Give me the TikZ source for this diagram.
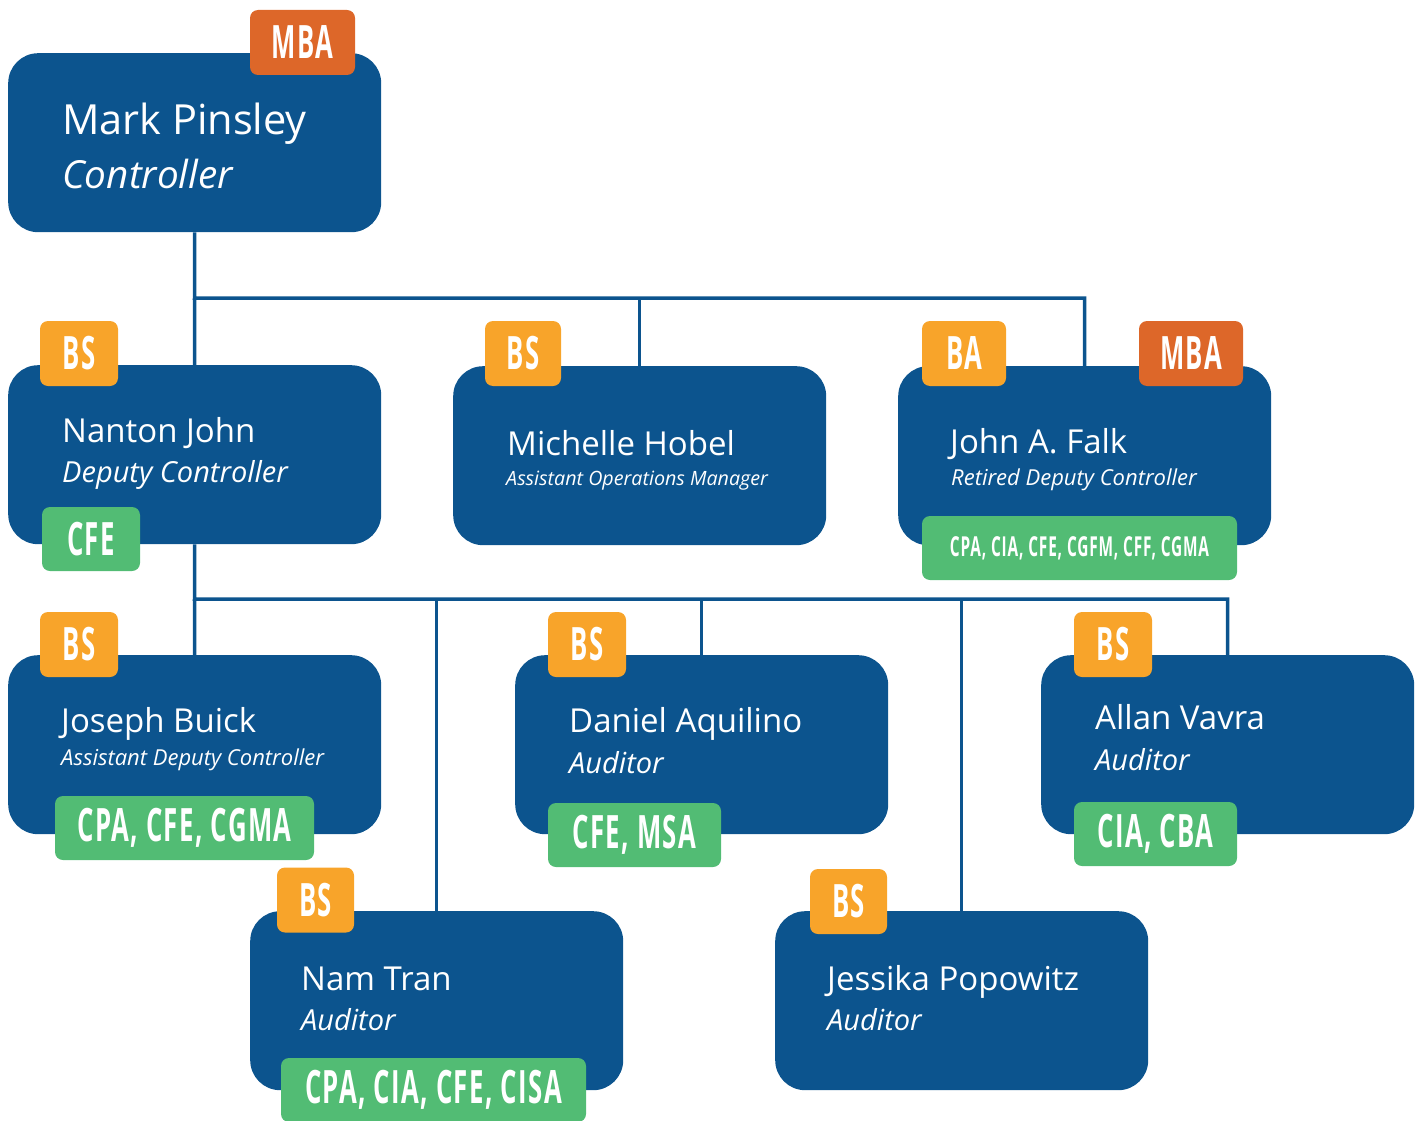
\documentclass[tikz,border=0pt]{standalone}
\usepackage{fontspec}
\setmainfont{Open Sans}
\newfontfamily\badgefont[FakeStretch=0.56, LetterSpace=3]{Open Sans}
\usetikzlibrary{positioning}
\definecolor{boxblue}{HTML}{0C548E}
\definecolor{degyellow}{HTML}{F8A42A}
\definecolor{degorange}{HTML}{DD6729}
\definecolor{certgreen}{HTML}{52BC74}

\tikzset{
  person/.style={fill=boxblue, rounded corners=30pt, minimum width=373pt,
    minimum height=179pt, anchor=north west, inner sep=0pt},
  pname/.style={anchor=base west, inner sep=0pt, text=white,
    font=\fontsize{33}{33}\selectfont},
  ptitle/.style={pname, font=\itshape\fontsize{29}{29}\selectfont},
  psmall/.style={pname, font=\itshape\fontsize{22}{22}\selectfont},
  badge/.style={rounded corners=8pt, minimum height=65pt, inner sep=0pt,
    text=white, font=\badgefont\bfseries\fontsize{46}{46}\selectfont},
  bs/.style={badge, fill=degyellow},
  mba/.style={badge, fill=degorange},
  cert/.style={badge, fill=certgreen, minimum height=64pt},
  link/.style={draw=boxblue, line width=3.5pt}
}

\begin{document}
\begin{tikzpicture}[x=1pt, y=-1pt]
  \useasboundingbox (0,0) rectangle (1421,1121);

  % boxes
  \node[person] (mark)    at (8,53)    {};
  \node[person] (nanton)  at (8,365)   {};
  \node[person] (hobel)   at (453,366) {};
  \node[person] (falk)    at (898,366) {};
  \node[person] (buick)   at (8,655)   {};
  \node[person] (aquil)   at (515,655) {};
  \node[person] (vavra)   at (1041,655) {};
  \node[person] (tran)    at (250,911) {};
  \node[person] (popow)   at (775,911) {};

  % connectors
  \coordinate (bus1) at (194.5,298);
  \coordinate (bus2) at (194.5,599);
  \draw[link] (mark.south) -- (bus1) -| (falk.north);
  \draw[link] (bus1) -- (nanton.north);
  \draw[link] (hobel.north) -- (hobel.north |- bus1);
  \draw[link] (nanton.south) -- (bus2) -| (vavra.north);
  \draw[link] (bus2) -- (buick.north);
  \draw[link] (tran.north) -- (tran.north |- bus2);
  \draw[link] (aquil.north) -- (aquil.north |- bus2);
  \draw[link] (popow.north) -- (popow.north |- bus2);

  % names and titles
  \node[pname, font=\fontsize{41.5}{41.5}\selectfont] (markN) at (62,135) {Mark Pinsley};
  \node[ptitle, font=\itshape\fontsize{38.7}{38.7}\selectfont] (markT) at (62,188) {Controller};
  \node[pname] (nantonN) at (62,442) {Nanton John};
  \node[ptitle] (nantonT) at (62,482) {Deputy Controller};
  \node[pname] (hobelN) at (507,455) {Michelle Hobel};
  \node[psmall, font=\itshape\fontsize{19.7}{19.7}\selectfont] (hobelT) at (506,485) {Assistant Operations Manager};
  \node[pname] (falkN) at (950,453) {John A. Falk};
  \node[psmall] (falkT) at (951,485) {Retired Deputy Controller};
  \node[pname] (buickN) at (61,732) {Joseph Buick};
  \node[psmall] (buickT) at (61,765) {Assistant Deputy Controller};
  \node[pname] (aquilN) at (569,732) {Daniel Aquilino};
  \node[ptitle] (aquilT) at (569,773) {Auditor};
  \node[pname] (vavraN) at (1095,729) {Allan Vavra};
  \node[ptitle] (vavraT) at (1095,770) {Auditor};
  \node[pname] (tranN) at (301,990) {Nam Tran};
  \node[ptitle] (tranT) at (301,1030) {Auditor};
  \node[pname] (popowN) at (827,990) {Jessika Popowitz};
  \node[ptitle] (popowT) at (827,1030) {Auditor};

  % degrees
  \node[mba, minimum width=105pt] (markMBA) at (302.5,42.5) {MBA};
  \node[bs, minimum width=78pt] (nantonBS) at (79,353.5) {BS};
  \node[bs, minimum width=76pt] (hobelBS) at (523,353.5) {BS};
  \node[bs, minimum width=84pt] (falkBA) at (964,353.5) {BA};
  \node[mba, minimum width=104pt] (falkMBA) at (1191,353.5) {MBA};
  \node[bs, minimum width=78pt] (buickBS) at (79,644.5) {BS};
  \node[bs, minimum width=78pt] (aquilBS) at (587,644.5) {BS};
  \node[bs, minimum width=78pt] (vavraBS) at (1113,644.5) {BS};
  \node[bs, minimum width=77pt] (tranBS) at (315.5,900) {BS};
  \node[bs, minimum width=77pt] (popowBS) at (848.5,901.5) {BS};

  % certifications
  \node[cert, minimum width=98pt] (nantonC) at (91,539) {CFE};
  \node[cert, minimum width=315pt, font=\badgefont\bfseries\fontsize{27.5}{27.5}\selectfont] (falkC) at (1079.5,548) {CPA, CIA, CFE, CGFM, CFF, CGMA};
  \node[cert, minimum width=259pt] (buickC) at (184.5,828) {CPA, CFE, CGMA};
  \node[cert, minimum width=173pt] (aquilC) at (634.5,835) {CFE, MSA};
  \node[cert, minimum width=163pt] (vavraC) at (1155.5,834) {CIA, CBA};
  \node[cert, minimum width=305pt] (tranC) at (433.5,1090) {CPA, CIA, CFE, CISA};
\end{tikzpicture}
\end{document}
